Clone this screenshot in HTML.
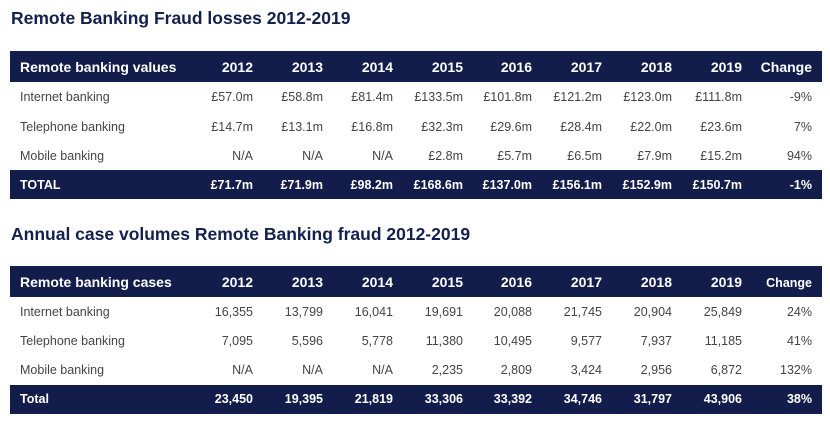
<!DOCTYPE html><html><head><style>
body{margin:0;width:830px;height:423px;background:#fff;font-family:"Liberation Sans",sans-serif;position:relative;overflow:hidden}
.t{position:absolute;left:11px;font-weight:bold;font-size:17.5px;color:#14204d;white-space:nowrap}
.band{position:absolute;left:10px;width:812px;background:#121d4b}
.c{position:absolute;white-space:nowrap;font-size:12.5px;color:#444;transform:translateY(-50%)}
.r{text-align:right}
.h{color:#fff;font-weight:bold;font-size:14px}
.tt{color:#fff;font-weight:bold;font-size:12.5px}
</style></head><body>
<div class="t" style="top:8px">Remote Banking Fraud losses 2012-2019</div>
<div class="t" style="top:224px">Annual case volumes Remote Banking fraud 2012-2019</div>
<div class="band" style="top:51px;height:31px"></div>
<div class="band" style="top:170px;height:29px"></div>
<div class="band" style="top:266px;height:31px"></div>
<div class="band" style="top:385px;height:29px"></div>
<div id="g"></div>
<script>
var R=[253,323,393,463,532,602,672,742,812];
function row(y,label,vals,cls){var h='<div class="c '+cls+'" style="left:20px;top:'+y+'px">'+label+'</div>';
vals.forEach(function(v,i){h+='<div class="c r '+cls+'" style="right:'+(830-R[i])+'px;top:'+y+'px">'+v+'</div>'});return h}
var s='';
s+=row(67,'Remote banking values',['2012','2013','2014','2015','2016','2017','2018','2019','Change'],'h');
s+=row(97,'Internet banking',['£57.0m','£58.8m','£81.4m','£133.5m','£101.8m','£121.2m','£123.0m','£111.8m','-9%'],'');
s+=row(127,'Telephone banking',['£14.7m','£13.1m','£16.8m','£32.3m','£29.6m','£28.4m','£22.0m','£23.6m','7%'],'');
s+=row(156,'Mobile banking',['N/A','N/A','N/A','£2.8m','£5.7m','£6.5m','£7.9m','£15.2m','94%'],'');
s+=row(185,'TOTAL',['£71.7m','£71.9m','£98.2m','£168.6m','£137.0m','£156.1m','£152.9m','£150.7m','-1%'],'tt');
s+=row(282,'Remote banking cases',['2012','2013','2014','2015','2016','2017','2018','2019','<span style="font-size:12.5px">Change</span>'],'h');
s+=row(312,'Internet banking',['16,355','13,799','16,041','19,691','20,088','21,745','20,904','25,849','24%'],'');
s+=row(341,'Telephone banking',['7,095','5,596','5,778','11,380','10,495','9,577','7,937','11,185','41%'],'');
s+=row(370,'Mobile banking',['N/A','N/A','N/A','2,235','2,809','3,424','2,956','6,872','132%'],'');
s+=row(399,'Total',['23,450','19,395','21,819','33,306','33,392','34,746','31,797','43,906','38%'],'tt');
document.getElementById('g').innerHTML=s;
</script>
</body></html>
